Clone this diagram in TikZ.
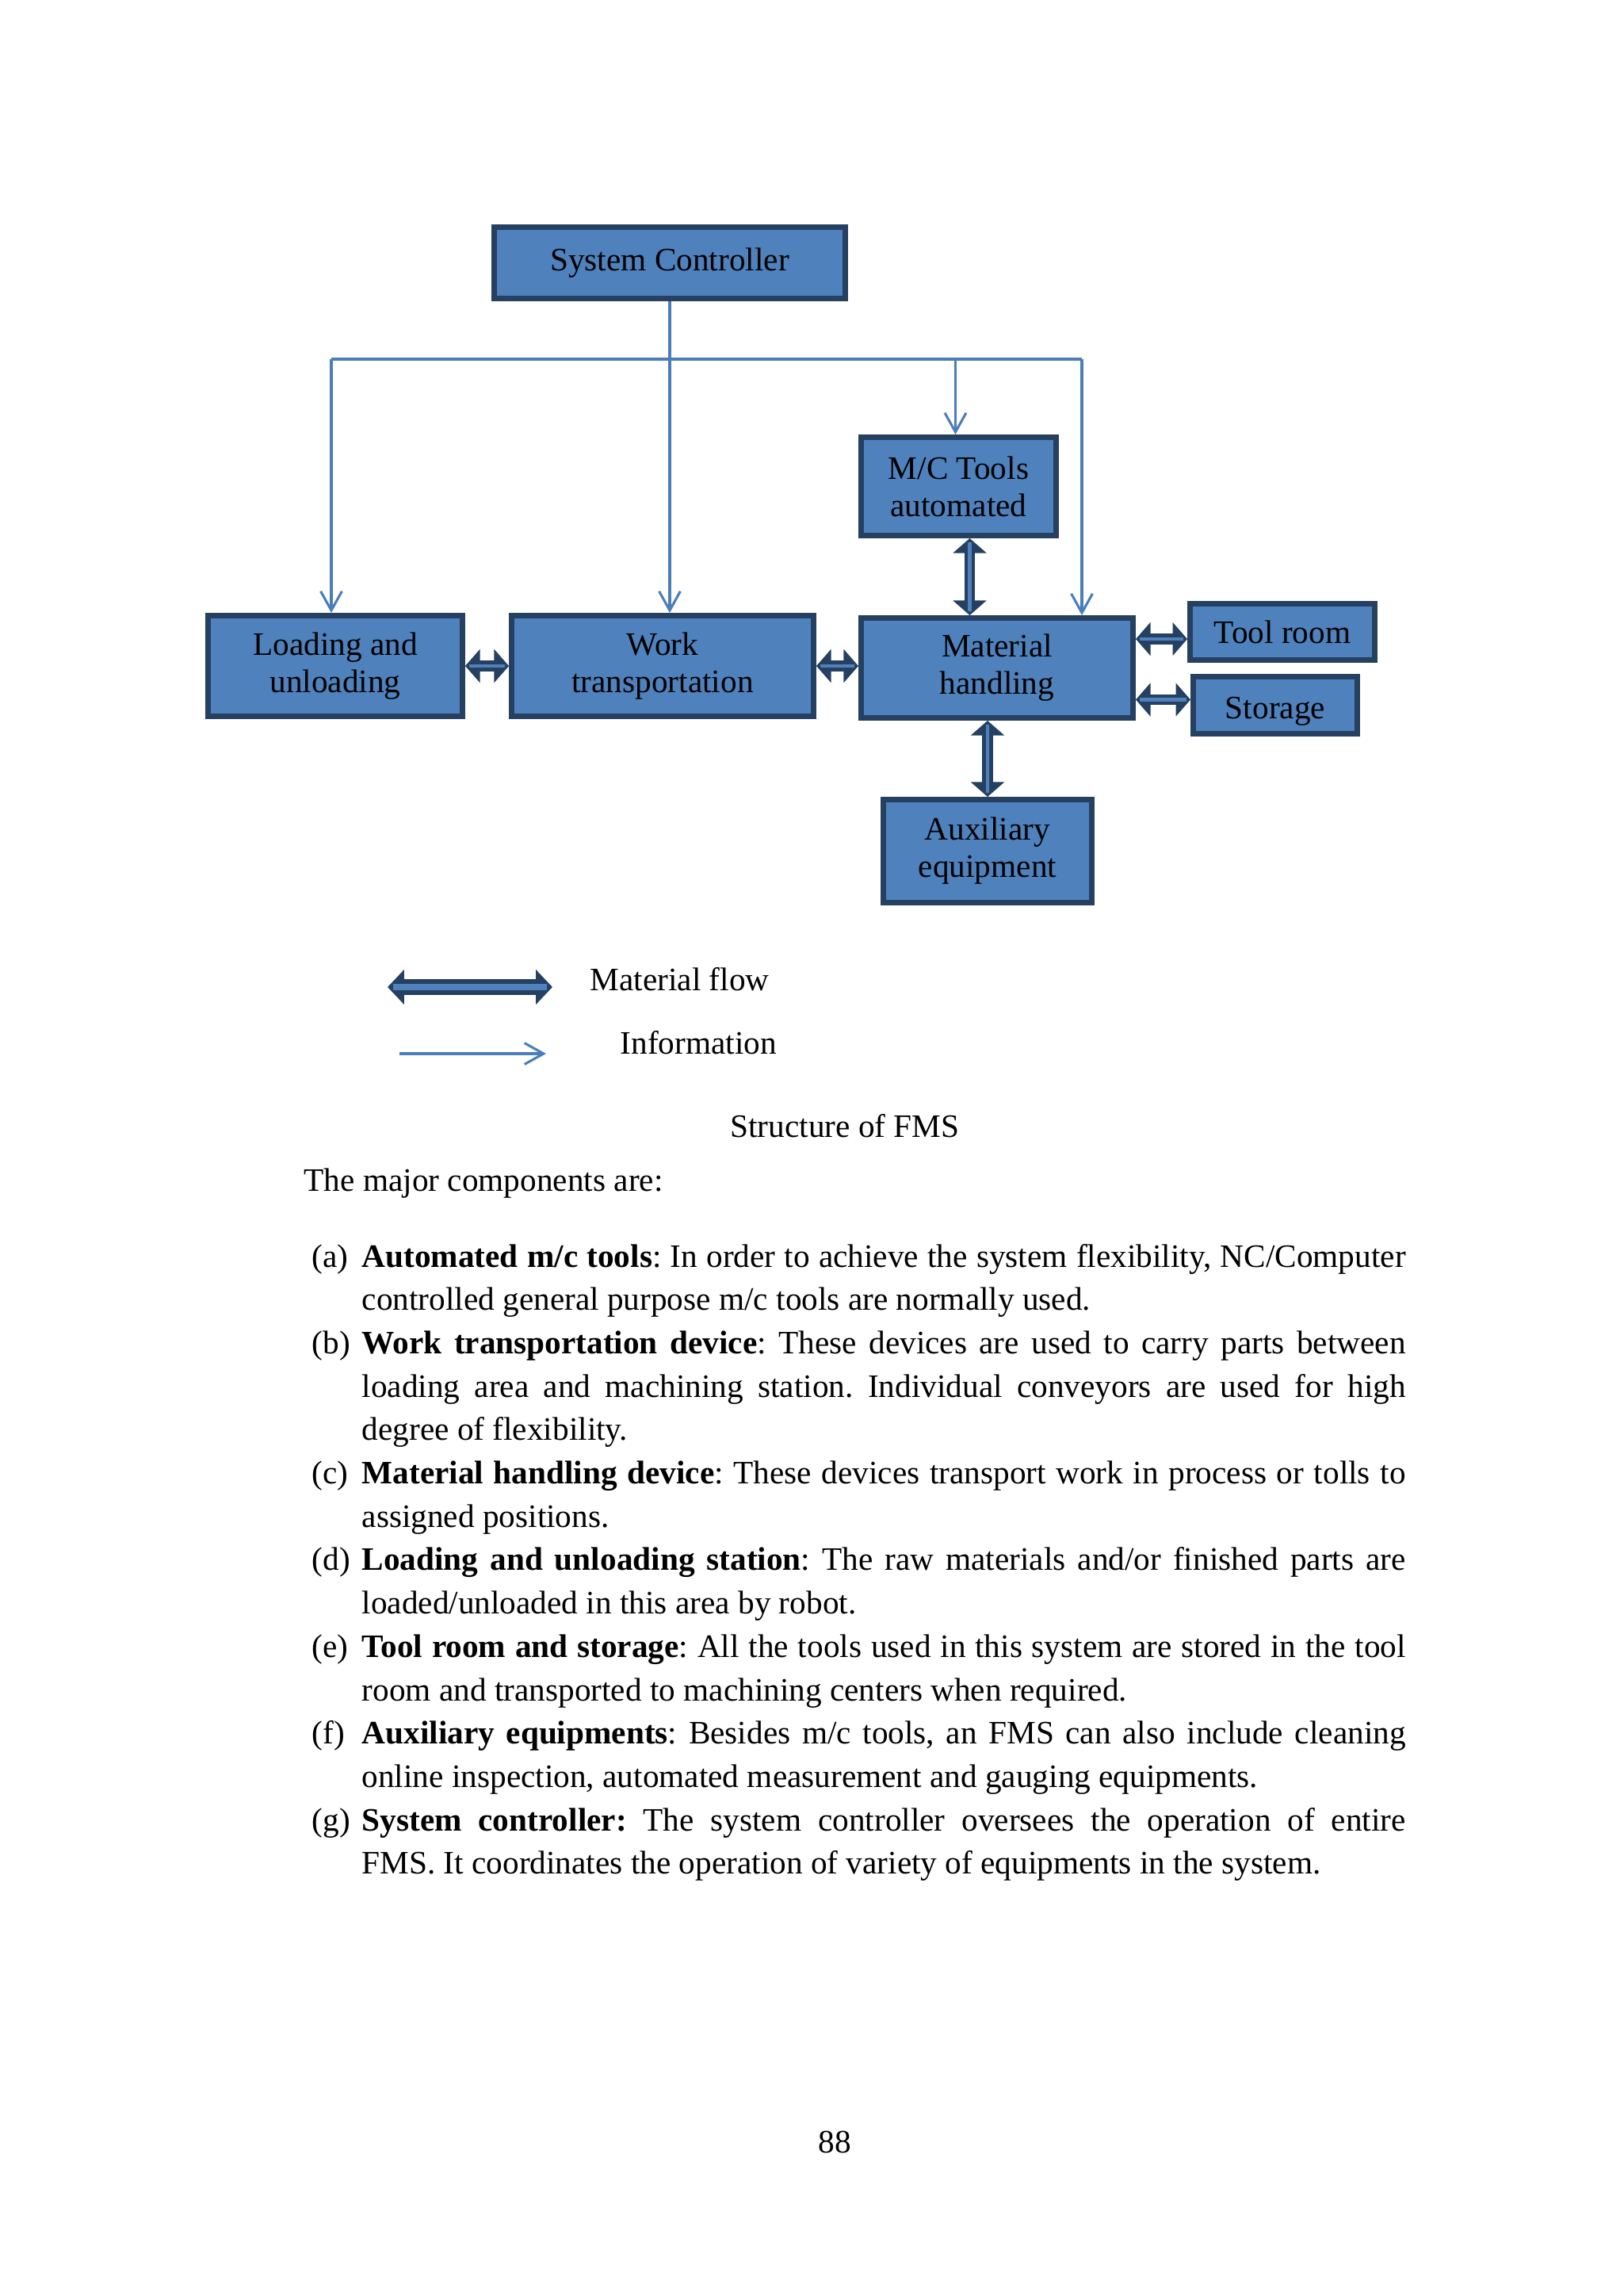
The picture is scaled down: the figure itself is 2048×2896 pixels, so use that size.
\documentclass[tikz,border=0pt]{standalone}
\usepackage{fontspec}
\setmainfont{Liberation Serif}
\usetikzlibrary{arrows.meta,calc}
\definecolor{boxfill}{HTML}{4F81BD}
\definecolor{boxline}{HTML}{254061}
\definecolor{infoline}{HTML}{4A7EBB}
\frenchspacing
\newcommand\flowlink[2]{%
  \draw[flowouter] #1 -- #2;
  \draw[flowinner] #1 -- #2;}
% justified line, plain line and item label of the text below the figure
\newcommand\jline[3]{\node[txt,anchor=base west] (#1) at (456,{1598+54.7*#2}) {\makebox[382.8pt][s]{#3}};}
\newcommand\pline[3]{\node[txt,anchor=base west] (#1) at (456,{1598+54.7*#2}) {#3};}
\newcommand\lbl[3]{\node[txt,anchor=base west] (#1) at (393,{1598+54.7*#2}) {#3};}
\begin{document}
\begin{tikzpicture}[x=0.29066pt,y=-0.29066pt,
  box/.style={draw=boxline, fill=boxfill, line width=2pt, inner sep=0pt, align=center,
    font=\fontsize{12pt}{13.66pt}\selectfont},
  txt/.style={inner sep=0pt, font=\fontsize{12pt}{15.75pt}\selectfont},
  flowouter/.style={draw=boxline, line width=4pt,
    {Triangle[length=5.4pt,width=12pt]}-{Triangle[length=5.4pt,width=12pt]}},
  flowinner/.style={draw=boxfill, line width=1.2pt, shorten <=1.5pt, shorten >=1.5pt},
  bigflowouter/.style={draw=boxline, line width=5.8pt,
    {Triangle[length=6.1pt,width=12.5pt]}-{Triangle[length=6.1pt,width=12.5pt]}},
  bigflowinner/.style={draw=boxfill, line width=2.3pt, shorten <=2pt, shorten >=2pt},
  info/.style={draw=infoline, line width=0.9pt},
  infoarrow/.style={info, -{Straight Barb[length=7pt,width=7.8pt]}}
]
\useasboundingbox (0,0) rectangle (2048,2896);
\fill[white] (0,0) rectangle (2048,2896);

% boxes
\node[box, minimum width=443*0.29066pt, minimum height=90*0.29066pt] (sc) at (845,331.5) {System Controller};
\node[box, minimum width=321*0.29066pt, minimum height=127*0.29066pt] (load) at (423,840) {Loading and\\unloading};
\node[box, minimum width=381*0.29066pt, minimum height=127*0.29066pt] (work) at (836,840) {Work\\transportation};
\node[box, minimum width=343*0.29066pt, minimum height=126*0.29066pt] (mh) at (1258,842.5) {Material\\handling};
\node[box, minimum width=246*0.29066pt, minimum height=124*0.29066pt] (mc) at (1209.5,613.5) {M/C Tools\\automated};
\node[box, minimum width=233*0.29066pt, minimum height=71*0.29066pt] (tool) at (1618,797) {Tool room};
\node[box, minimum width=207*0.29066pt, minimum height=72*0.29066pt, text height=9.8pt, text depth=0pt] (stor) at (1609,889.5) {Storage};
\node[box, minimum width=263*0.29066pt, minimum height=130*0.29066pt] (aux) at (1246,1073.5) {Auxiliary\\equipment};

% information lines
\coordinate (busL) at (418,453);
\coordinate (busR) at (1365,453);
\coordinate (mcin) at ($(mc.north)+(-4,0)$);
\draw[info] (busL) -- (busR);
\draw[infoarrow] (busL) -- (busL |- load.north);
\draw[infoarrow] (sc.south) -- (sc.south |- work.north);
\draw[infoarrow] (mcin |- busL) -- (mcin);
\draw[infoarrow] (busR) -- (busR |- mh.north);

% material flow
\coordinate (mcs) at ($(mc.south)+(14,0)$);
\coordinate (mht) at (mcs |- mh.north);
\coordinate (mhb) at (mh.south -| aux.north);
\coordinate (mhe1) at ($(mh.east |- tool.west)+(0,9)$);
\coordinate (tlw) at ($(tool.west)+(0,9)$);
\coordinate (mhe2) at ($(mh.east |- stor.west)+(0,-7)$);
\coordinate (stw) at ($(stor.west)+(0,-7)$);
\coordinate (wte) at (work.east -| mh.west);
\flowlink{(load.east)}{(work.west)}
\flowlink{(work.east)}{(wte)}
\flowlink{(mcs)}{(mht)}
\flowlink{(mhb)}{(aux.north)}
\flowlink{(mhe1)}{(tlw)}
\flowlink{(mhe2)}{(stw)}

% legend
\coordinate (mfL) at (489,1245);
\coordinate (mfR) at (697,1245);
\draw[bigflowouter] (mfL) -- (mfR);
\draw[bigflowinner] (mfL) -- (mfR);
\node[txt, anchor=base west] (lmf) at (744,1249) {Material flow};
\coordinate (inL) at (504,1329);
\coordinate (inR) at (689,1329);
\draw[infoarrow] (inL) -- (inR);
\node[txt, anchor=base west] (linfo) at (782,1329) {Information};

% caption and text
\node[txt, anchor=base] (caption) at (1066,1434) {Structure of FMS};
\node[txt, anchor=base west] (intro) at (383,1502) {The major components are:};

\lbl{la}{0}{(a)}
\jline{a1}{0}{\textbf{Automated m/c tools}: In order to achieve the system flexibility, NC/Computer}
\pline{a2}{1}{controlled general purpose m/c tools are normally used.}
\lbl{lb}{2}{(b)}
\jline{b1}{2}{\textbf{Work transportation device}: These devices are used to carry parts between}
\jline{b2}{3}{loading area and machining station. Individual conveyors are used for high}
\pline{b3}{4}{degree of flexibility.}
\lbl{lc}{5}{(c)}
\jline{c1}{5}{\textbf{Material handling device}: These devices transport work in process or tolls to}
\pline{c2}{6}{assigned positions.}
\lbl{ld}{7}{(d)}
\jline{d1}{7}{\textbf{Loading and unloading station}: The raw materials and/or finished parts are}
\pline{d2}{8}{loaded/unloaded in this area by robot.}
\lbl{le}{9}{(e)}
\jline{e1}{9}{\textbf{Tool room and storage}: All the tools used in this system are stored in the tool}
\pline{e2}{10}{room and transported to machining centers when required.}
\lbl{lf}{11}{(f)}
\jline{f1}{11}{\textbf{Auxiliary equipments}: Besides m/c tools, an FMS can also include cleaning}
\pline{f2}{12}{online inspection, automated measurement and gauging equipments.}
\lbl{lg}{13}{(g)}
\jline{g1}{13}{\textbf{System controller:} The system controller oversees the operation of entire}
\pline{g2}{14}{FMS. It coordinates the operation of variety of equipments in the system.}

\node[txt, anchor=base] (pgnum) at (1053,2715) {88};
\end{tikzpicture}
\end{document}
